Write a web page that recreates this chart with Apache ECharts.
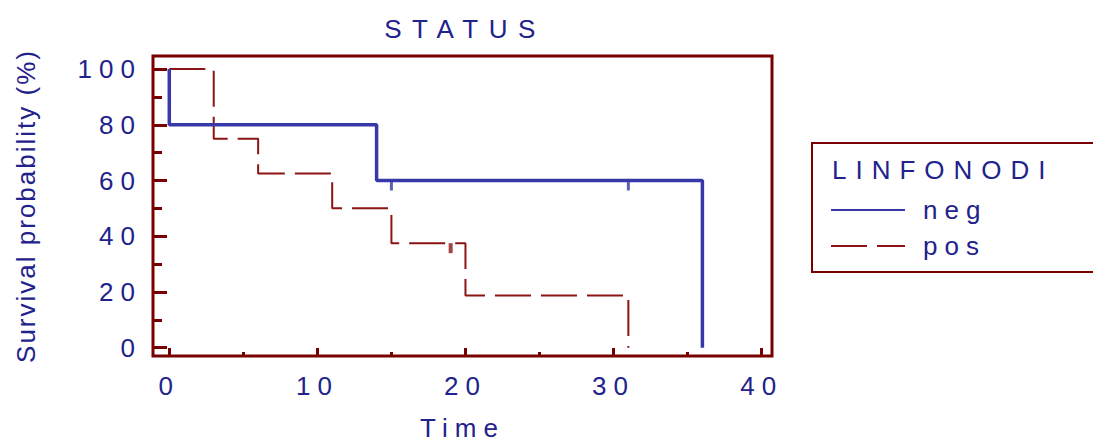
<!DOCTYPE html>
<html><head><meta charset="utf-8">
<script src="https://cdn.jsdelivr.net/npm/echarts@6/dist/echarts.min.js"></script>
<style>html,body{margin:0;padding:0;background:#fff}#c{width:1093px;height:443px}</style>
</head><body><div id="c"></div>
<script>
// ---- data ----
const xTickLabels = [0, 10, 20, 30, 40];
const xMinorTicks = [5, 15, 25, 35];
const yTickLabels = [0, 20, 40, 60, 80, 100];
const yMinorTicks = [10, 30, 50, 70, 90];
const seriesNames = ['neg', 'pos'];
const negTimes = [0, 0, 14, 36];
const negSurvival = [100, 80, 60, 0];
const posTimes = [0, 3, 6, 11, 15, 20, 31];
const posSurvival = [100, 75, 62.5, 50, 37.5, 18.75, 0];
const negCensorTimes = [15, 31];
const negCensorSurvival = [60, 60];
const posCensorTimes = [19];
const posCensorSurvival = [37.5];

// ---- styles ----
const FONT = '"Liberation Sans", Arial, sans-serif';
const TEXT = '#22228c';
const BLUE = '#3838a8';
const RED = '#8c1414';
const FRAME = '#780000';
const FS = 26;

const pairs = (xs, ys) => xs.map((x, i) => [x, ys[i]]);

const chart = echarts.init(document.getElementById('c'), null, { renderer: 'svg' });

const baseX = {
  type: 'value', min: -1.1, max: 40.7, position: 'bottom',
  axisLine: { show: false, onZero: false }, splitLine: { show: false }
};
const baseY = {
  type: 'value', min: -3, max: 104.7, position: 'left',
  axisLine: { show: false, onZero: false }, splitLine: { show: false }
};

chart.setOption({
  animation: false,
  backgroundColor: '#fff',
  grid: { show: true, left: 153, top: 56, width: 619, height: 300,
          outerBoundsMode: 'none', containLabel: false,
          borderColor: FRAME, borderWidth: 3, backgroundColor: 'transparent' },
  xAxis: [
    Object.assign({}, baseX, {
      axisTick: { show: true, inside: true, length: 8, customValues: xTickLabels,
                  lineStyle: { color: FRAME, width: 3 } },
      axisLabel: { customValues: xTickLabels, color: TEXT, fontSize: FS, fontFamily: FONT, margin: 17 },
      name: 'Time', nameLocation: 'middle', nameGap: 59,
      nameTextStyle: { color: TEXT, fontSize: FS, fontFamily: FONT }
    }),
    Object.assign({}, baseX, {
      axisTick: { show: true, inside: true, length: 4, customValues: xMinorTicks,
                  lineStyle: { color: FRAME, width: 3 } },
      axisLabel: { show: false, customValues: xMinorTicks }
    })
  ],
  yAxis: [
    Object.assign({}, baseY, {
      axisTick: { show: true, inside: true, length: 14, customValues: yTickLabels,
                  lineStyle: { color: FRAME, width: 3 } },
      axisLabel: { customValues: yTickLabels, color: TEXT, fontSize: FS, fontFamily: FONT, margin: 11 },
      name: 'Survival probability (%)', nameLocation: 'middle', nameGap: 114, nameRotate: 90,
      nameTextStyle: { color: TEXT, fontSize: FS, fontFamily: FONT }
    }),
    Object.assign({}, baseY, {
      axisTick: { show: true, inside: true, length: 9, customValues: yMinorTicks,
                  lineStyle: { color: FRAME, width: 3 } },
      axisLabel: { show: false, customValues: yMinorTicks }
    })
  ],
  legend: {
    data: seriesNames, orient: 'vertical', left: 830, top: 197, padding: 0,
    itemWidth: 74, itemHeight: 14, itemGap: 10, selectedMode: false,
    lineStyle: { width: 2 },
    itemStyle: { opacity: 0 },
    textStyle: { color: TEXT, fontSize: FS, fontFamily: FONT, lineHeight: 26, padding: [0, 0, 0, 13] }
  },
  graphic: [
    { type: 'rect', z: 0, silent: true,
      shape: { x: 812, y: 143, width: 320, height: 129 },
      style: { fill: 'none', stroke: FRAME, lineWidth: 2 } },
    { type: 'text', silent: true, x: 465, y: 29,
      style: { text: 'STATUS', fill: TEXT, font: FS + 'px ' + FONT,
               textAlign: 'center', textVerticalAlign: 'middle', align: 'center', verticalAlign: 'middle' } },
    { type: 'text', silent: true, x: 832, y: 170,
      style: { text: 'LINFONODI', fill: TEXT, font: FS + 'px ' + FONT,
               textAlign: 'left', textVerticalAlign: 'middle', align: 'left', verticalAlign: 'middle' } }
  ],
  series: [
    { name: 'pos', type: 'line', step: 'end', symbol: 'none', silent: true, z: 2,
      data: pairs(posTimes, posSurvival),
      itemStyle: { color: RED },
      lineStyle: { color: RED, width: 2, type: [36, 10] } },
    { name: 'neg', type: 'line', step: 'end', symbol: 'none', silent: true, z: 3,
      data: pairs(negTimes, negSurvival),
      itemStyle: { color: BLUE },
      lineStyle: { color: BLUE, width: 3.5, type: 'solid' } },
    { name: 'neg censored', type: 'scatter', symbol: 'rect', symbolSize: [3, 10], symbolOffset: [0, 5],
      silent: true, z: 3, data: pairs(negCensorTimes, negCensorSurvival), itemStyle: { color: BLUE } },
    { name: 'pos censored', type: 'scatter', symbol: 'rect', symbolSize: [4, 10], symbolOffset: [0, 5],
      silent: true, z: 3, data: pairs(posCensorTimes, posCensorSurvival), itemStyle: { color: RED } }
  ]
});

// letter spacing to mimic the wide-spaced original font
const spacing = { 'STATUS': 10.5, 'LINFONODI': 9, 'Survival probability (%)': 2 };
function applySpacing() {
  document.querySelectorAll('#c svg text').forEach(t => {
    const s = spacing[t.textContent];
    t.style.letterSpacing = (s !== undefined ? s : 7) + 'px';
  });
}
chart.on('finished', applySpacing);
applySpacing();
</script></body></html>
